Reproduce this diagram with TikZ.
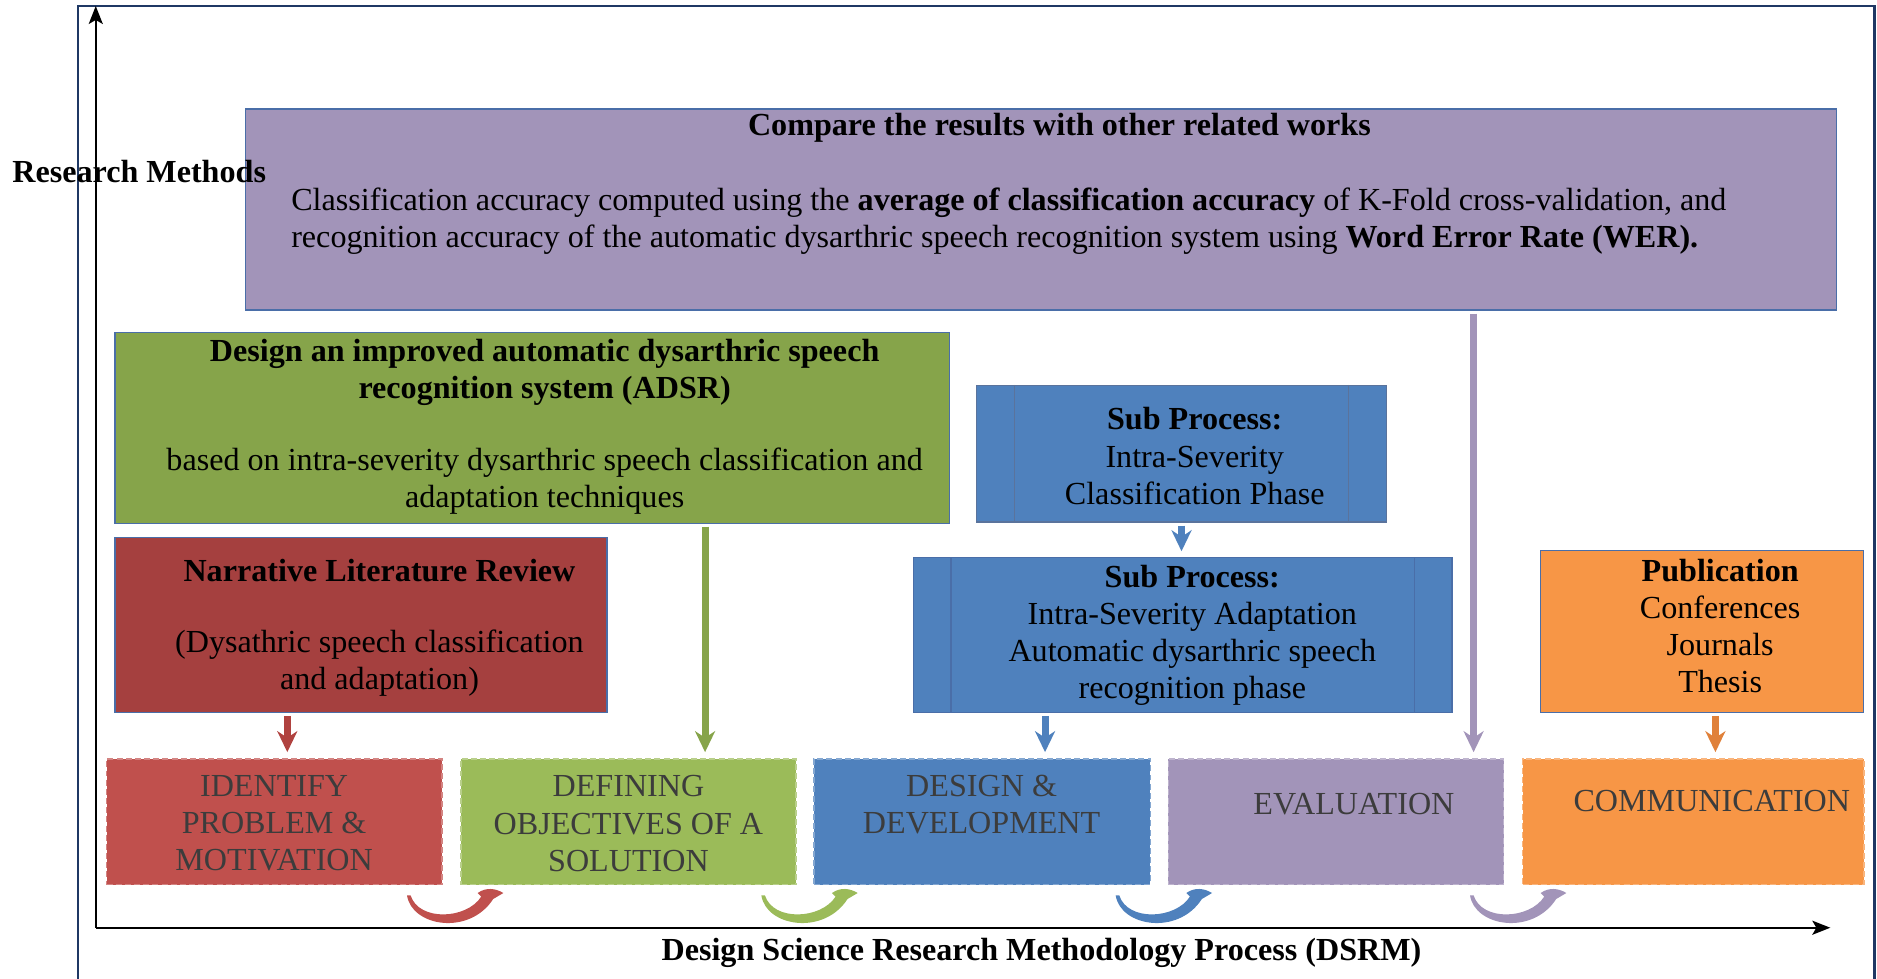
\documentclass[tikz,border=0pt]{standalone}
\usepackage{fontspec}
\setmainfont{Liberation Serif}
\usetikzlibrary{arrows.meta,fit}
\definecolor{frameblue}{HTML}{1F3864}
\definecolor{bordb}{HTML}{4A6EA8}
\definecolor{purpc}{HTML}{A294B9}
\definecolor{olivec}{HTML}{86A44A}
\definecolor{lgreenc}{HTML}{9BBB59}
\definecolor{dredc}{HTML}{A5403F}
\definecolor{redc}{HTML}{C0504D}
\definecolor{bluec}{HTML}{4F81BD}
\definecolor{orangec}{HTML}{F79646}
\definecolor{orangea}{HTML}{E0813A}
\definecolor{redarr}{HTML}{B0423F}
\definecolor{txtgray}{HTML}{3C3C3C}
\tikzset{
  x=0.6pt, y=-0.6pt,
  solidbox/.style={draw=bordb, line width=0.6pt, inner sep=0pt},
  procbox/.style={draw=bordb!70!gray, line width=0.6pt, inner sep=0pt},
  dashbox/.style={dashed, dash pattern=on 3pt off 1.6pt, line width=0.8pt, inner sep=0pt},
  txt/.style={font=\fontsize{16.1}{18.6}\selectfont, align=center, inner sep=0pt},
  btxt/.style={txt, text=txtgray},
  varrow/.style={line width=3.5pt, -{Stealth[length=10.5pt,width=10pt,inset=3.3pt]}, shorten >=3pt, shorten <=1.5pt},
  axarrow/.style={line width=1.2pt, -{Stealth[length=9pt,width=7pt,inset=2pt]}},
  curvarr/.pic={\fill[pic actions] (0,0) .. controls (4,26) and (52,34) .. (72,3) -- (80.5,-2) .. controls (74,-6) and (66,-7) .. (59,-2) -- (62,1) .. controls (50,20) and (10,22) .. (3,0) -- cycle;}
}
\begin{document}
\begin{tikzpicture}
\useasboundingbox (0,0) rectangle (1568,817);
% frame
\draw[frameblue, line width=1.3pt] (65,840) -- (65,5) -- (1566,5) -- (1566,840);

% top purple box
\node[solidbox, fill=purpc, fit={(205,91) (1534,259)}] (cmp) {};
\node[txt, font=\fontsize{16.1}{18.6}\selectfont\bfseries] (cmpt) at (885,107) {Compare the results with other related works};
\node[txt, align=left, anchor=west] (cmpb) at (243,185) {Classification accuracy computed using the \textbf{average of classification accuracy} of K-Fold cross-validation, and\\recognition accuracy of the automatic dysarthric speech recognition system using \textbf{Word Error Rate (WER).}};

% axes
\coordinate (origin) at (80,775);
\coordinate (ytop) at (80,5);
\coordinate (xend) at (1529,775);
\draw[axarrow] (origin) -- (ytop);
\draw[axarrow] (origin) -- (xend);
\node[font=\fontsize{16.1}{18}\selectfont\bfseries, anchor=west, inner sep=0pt] (ylab) at (10,143) {Research Methods};
\node[font=\fontsize{16.1}{18}\selectfont\bfseries, inner sep=0pt] (xlab) at (870,796) {Design Science Research Methodology Process (DSRM)};

% green box
\node[solidbox, fill=olivec, fit={(96,278) (793,437)}] (adsr) {};
\node[txt, font=\fontsize{16.1}{18.6}\selectfont\bfseries] (adsrt) at (455,311) {Design an improved automatic dysarthric speech\\recognition system (ADSR)};
\node[txt] (adsrb) at (455,402) {based on intra-severity dysarthric speech classification and\\adaptation techniques};

% red box
\node[solidbox, fill=dredc, fit={(96,449) (507,595)}] (nlr) {};
\node[txt, font=\fontsize{16.1}{18.6}\selectfont\bfseries] (nlrt) at (317,477) {Narrative Literature Review};
\node[txt] (nlrb) at (317,554) {(Dysathric speech classification\\and adaptation)};

% blue process boxes
\node[procbox, fill=bluec, fit={(816,322) (1158,436)}] (sp1) {};
\draw[procbox] ([xshift=19.2pt]sp1.north west) -- ([xshift=19.2pt]sp1.south west);
\draw[procbox] ([xshift=-19.2pt]sp1.north east) -- ([xshift=-19.2pt]sp1.south east);
\node[txt] (sp1t) at (998,381) {\textbf{Sub Process:}\\Intra-Severity\\Classification Phase};

\node[solidbox, draw=bordb, fill=bluec, fit={(763,466) (1213,595)}] (sp2) {};
\draw[solidbox] ([xshift=19.2pt]sp2.north west) -- ([xshift=19.2pt]sp2.south west);
\draw[solidbox] ([xshift=-19.2pt]sp2.north east) -- ([xshift=-19.2pt]sp2.south east);
\node[txt] (sp2t) at (996,531) {\textbf{Sub Process:}\\Intra-Severity Adaptation\\Automatic dysarthric speech\\recognition phase};

% orange box
\node[solidbox, fill=orangec, fit={(1287,460) (1557,595)}] (pub) {};
\node[txt] (pubt) at (1437,523) {\textbf{Publication}\\Conferences\\Journals\\Thesis};

% bottom DSRM boxes
\node[dashbox, fill=redc, draw=redc!70!white, fit={(89,634) (369,739)}] (idf) {};
\node[btxt] (idft) at (229,688) {IDENTIFY\\PROBLEM \&\\MOTIVATION};
\node[dashbox, fill=lgreenc, draw=lgreenc!70!white, fit={(385,634) (665,739)}] (obj) {};
\node[btxt] (objt) at (525,688) {DEFINING\\OBJECTIVES OF A\\SOLUTION};
\node[dashbox, fill=bluec, draw=bluec!70!white, fit={(680,634) (961,739)}] (dev) {};
\node[btxt] (devt) at (820,672) {DESIGN \&\\DEVELOPMENT};
\node[dashbox, fill=purpc, draw=purpc!70!white, fit={(976,634) (1256,739)}] (evl) {};
\node[btxt] (evlt) at (1131,672) {EVALUATION};
\node[dashbox, fill=orangec, draw=orangec!70!white, fit={(1272,634) (1557,739)}] (com) {};
\node[btxt] (comt) at (1430,669) {COMMUNICATION};

% vertical arrows
\coordinate (xr) at (240,0);
\coordinate (xg) at (589,0);
\coordinate (xb1) at (987,0);
\coordinate (xb2) at (873,0);
\coordinate (xp) at (1231,0);
\coordinate (xo) at (1433,0);
\draw[varrow, redarr] (nlr.south -| xr) -- (idf.north -| xr);
\draw[varrow, olivec] (adsr.south -| xg) -- (obj.north -| xg);
\draw[varrow, bluec] (sp1.south -| xb1) -- (sp2.north -| xb1);
\draw[varrow, bluec] (sp2.south -| xb2) -- (dev.north -| xb2);
\draw[varrow, purpc] (cmp.south -| xp) -- (evl.north -| xp);
\draw[varrow, orangea] (pub.south -| xo) -- (com.north -| xo);

% curved arrows between steps
\pic[fill=redc] at (340,748) {curvarr};
\pic[fill=lgreenc] at (636,748) {curvarr};
\pic[fill=bluec] at (932,748) {curvarr};
\pic[fill=purpc] at (1228,748) {curvarr};
\end{tikzpicture}
\end{document}
